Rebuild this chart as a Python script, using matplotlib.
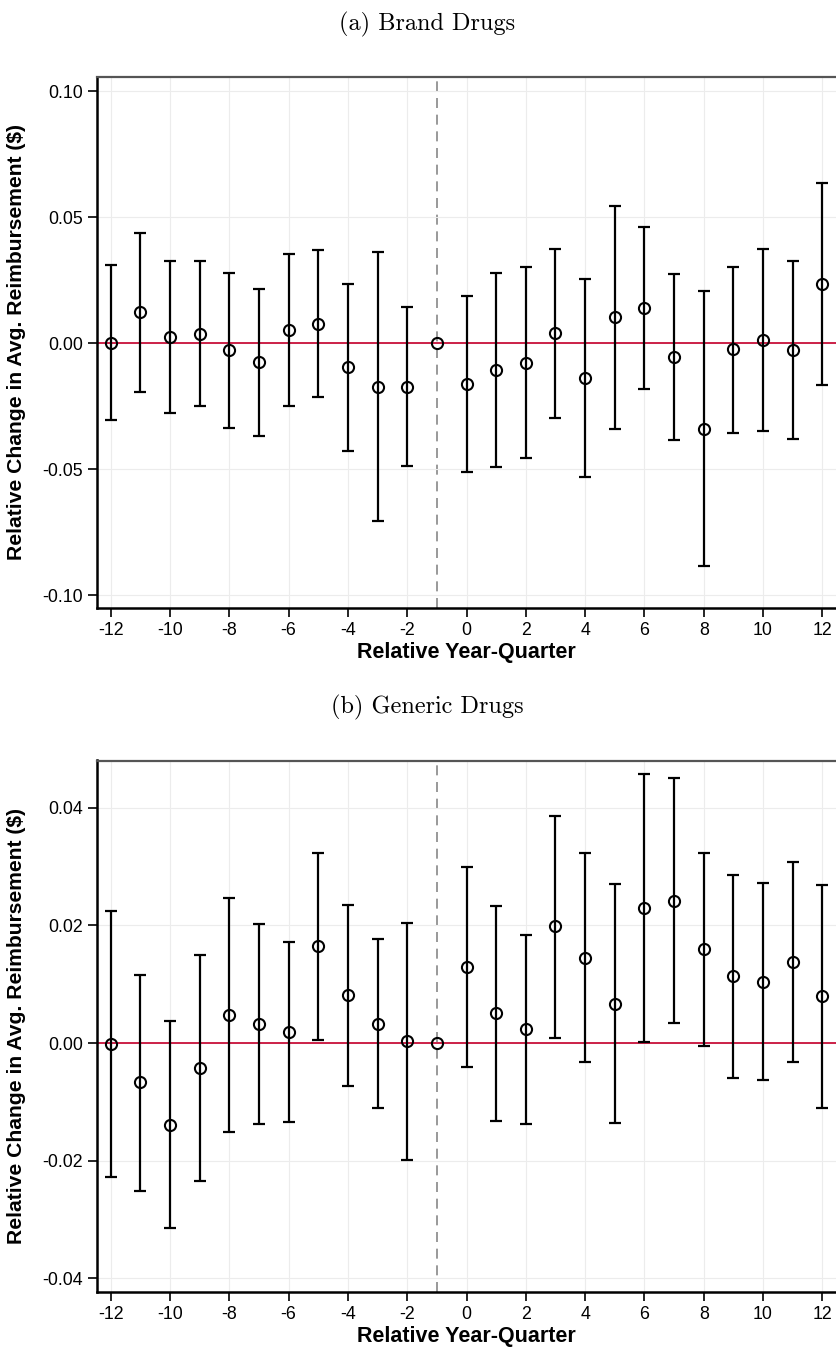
import matplotlib

matplotlib.use('Agg')
import matplotlib.pyplot as plt

plt.rcParams['font.family'] = ['Liberation Sans', 'DejaVu Sans']
plt.rcParams['axes.unicode_minus'] = False

# relative year-quarter
quarters = list(range(-12, 13))

# (a) brand drugs: point estimate, upper and lower bound of CI
brand_est = [0.0000, 0.0123, 0.0024, 0.0038, -0.0027, -0.0075, 0.0054, 0.0078,
             -0.0094, -0.0172, -0.0172, 0.0,
             -0.0162, -0.0105, -0.0077, 0.0040, -0.0136, 0.0103, 0.0140,
             -0.0054, -0.0339, -0.0024, 0.0014, -0.0026, 0.0235]
brand_hi = [0.0312, 0.0437, 0.0326, 0.0325, 0.0281, 0.0217, 0.0356, 0.0370,
            0.0237, 0.0362, 0.0146, 0.0,
            0.0187, 0.0281, 0.0303, 0.0376, 0.0255, 0.0545, 0.0461,
            0.0277, 0.0207, 0.0305, 0.0376, 0.0326, 0.0636]
brand_lo = [-0.0305, -0.0191, -0.0278, -0.0250, -0.0336, -0.0366, -0.0248, -0.0213,
            -0.0426, -0.0706, -0.0488, 0.0,
            -0.0511, -0.0492, -0.0455, -0.0296, -0.0529, -0.0339, -0.0180,
            -0.0384, -0.0885, -0.0356, -0.0348, -0.0380, -0.0165]

# (b) generic drugs
generic_est = [-0.0002, -0.0067, -0.0139, -0.0043, 0.0047, 0.0032, 0.0019, 0.0164,
               0.0081, 0.0033, 0.0003, 0.0,
               0.0129, 0.0051, 0.0023, 0.0198, 0.0145, 0.0067, 0.0229,
               0.0242, 0.0159, 0.0114, 0.0104, 0.0138, 0.0080]
generic_hi = [0.0225, 0.0116, 0.0038, 0.0149, 0.0246, 0.0202, 0.0172, 0.0322,
              0.0235, 0.0177, 0.0204, 0.0,
              0.0299, 0.0233, 0.0183, 0.0386, 0.0323, 0.0270, 0.0457,
              0.0451, 0.0323, 0.0285, 0.0272, 0.0308, 0.0269]
generic_lo = [-0.0227, -0.0251, -0.0315, -0.0235, -0.0152, -0.0138, -0.0134, 0.0005,
              -0.0073, -0.0111, -0.0199, 0.0,
              -0.0041, -0.0132, -0.0138, 0.0009, -0.0033, -0.0136, 0.0001,
              0.0034, -0.0005, -0.0059, -0.0063, -0.0033, -0.0111]

brand_yticks = [-0.10, -0.05, 0.00, 0.05, 0.10]
generic_yticks = [-0.04, -0.02, 0.00, 0.02, 0.04]
xticks = list(range(-12, 13, 2))

W, H = 836, 1347
fig = plt.figure(figsize=(W / 100, H / 100), dpi=100)


def panel(rect, est, lo, hi, yticks, ylim):
    ax = fig.add_axes(rect)
    ax.grid(True, color='#ececec', linewidth=0.8, zorder=0)
    ax.axhline(0, color='#c8103a', linewidth=1.3, zorder=2)
    ax.axvline(-1, color='#888888', linestyle=(0, (6, 4)), linewidth=1.2, zorder=1)
    for x, e, l, h in zip(quarters, est, lo, hi):
        if l == h:
            continue
        ax.errorbar([x], [e], yerr=[[e - l], [h - e]], fmt='none', ecolor='black',
                    elinewidth=1.6, capsize=4.3, capthick=1.6, zorder=3)
    ax.plot(quarters, est, 'o', markerfacecolor='none', markeredgecolor='black',
            markersize=8, markeredgewidth=1.5, zorder=4)
    ax.set_xlim(-12.46, 12.46)
    ax.set_ylim(*ylim)
    ax.set_xticks(xticks)
    ax.set_yticks(yticks)
    ax.set_yticklabels(['%.2f' % v for v in yticks])
    ax.tick_params(direction='out', length=6.5, width=1.2, labelsize=12.8, pad=3.5,
                   colors='black')
    for s in ['left', 'bottom']:
        ax.spines[s].set_linewidth(1.8)
        ax.spines[s].set_color('black')
    ax.spines['top'].set_linewidth(1.6)
    ax.spines['top'].set_color('#555555')
    ax.spines['right'].set_visible(False)
    ax.set_xlabel('Relative Year-Quarter', fontsize=15.5, fontweight='bold', labelpad=2)
    ax.set_ylabel('Relative Change in Avg. Reimbursement ($)', fontsize=15.2,
                  fontweight='bold', labelpad=12)
    return ax


panel([97 / W, 1 - 608 / H, (W - 97) / W, 531 / H], brand_est, brand_lo, brand_hi,
      brand_yticks, (-0.105, 0.1057))
panel([97 / W, 1 - 1292 / H, (W - 97) / W, 531.5 / H], generic_est, generic_lo, generic_hi,
      generic_yticks, (-0.0423, 0.048))

fig.text(427 / W, 1 - 24 / H, '(a) Brand Drugs', fontfamily='cmr10', fontsize=17.5,
         ha='center', va='center')
fig.text(427 / W, 1 - 707 / H, '(b) Generic Drugs', fontfamily='cmr10', fontsize=17.5,
         ha='center', va='center')

fig.savefig('out.png', dpi=100)
